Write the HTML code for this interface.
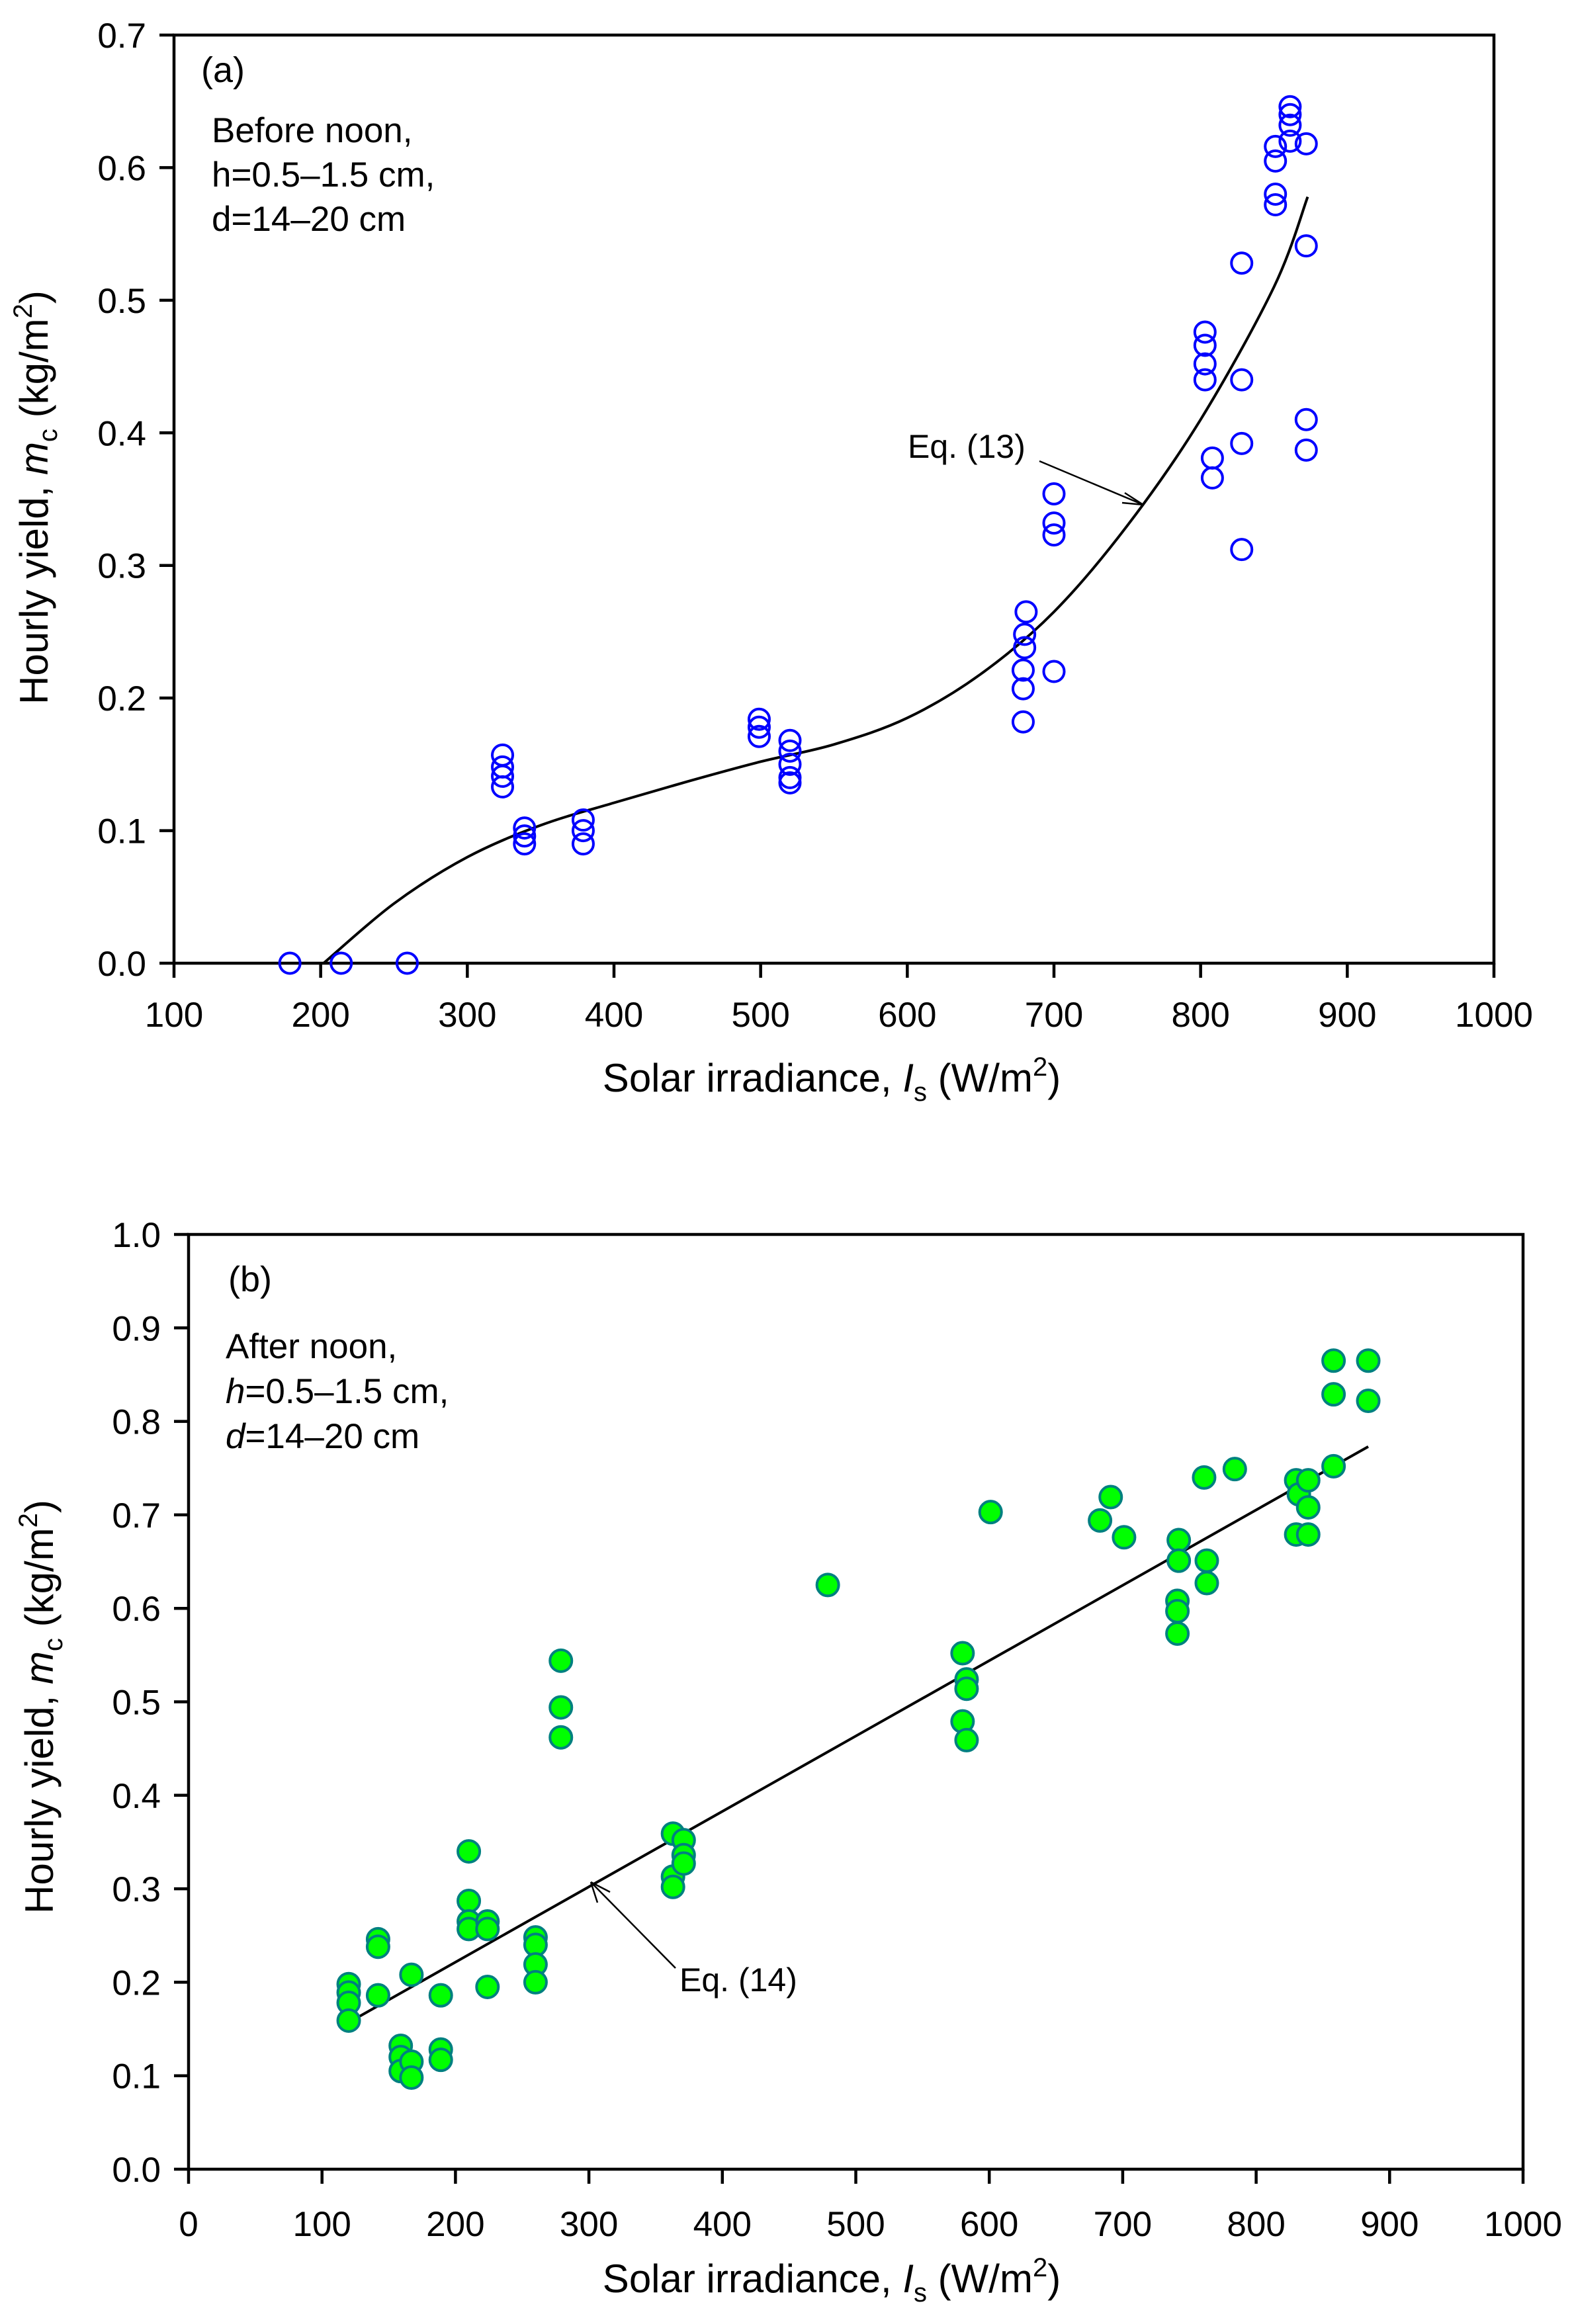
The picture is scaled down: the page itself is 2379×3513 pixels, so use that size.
<!DOCTYPE html>
<html><head><meta charset="utf-8">
<style>
html,body{margin:0;padding:0;background:#fff;}
svg{display:block;font-family:"Liberation Sans",Arial,sans-serif;}
</style></head>
<body>
<svg id="fig" width="2379" height="3513" viewBox="0 0 2379 3513" xmlns="http://www.w3.org/2000/svg">
<rect width="2379" height="3513" fill="#fff"/>
<g id="chartA"></g>
<g id="chartB"></g>
</svg>
<script>
// ---- Chart (a) data ----
const aX = [179,214,259,324,324,324,324,339,339,339,379,379,379,499,499,499,520,520,520,520,520,679,679,679,680,680,681,700,700,700,700,803,803,803,803,808,808,828,828,828,828,851,851,851,851,861,861,861,861,872,872,872,872];
const aY = [0,0,0,0.157,0.148,0.141,0.133,0.102,0.096,0.09,0.108,0.1,0.09,0.184,0.178,0.171,0.168,0.16,0.15,0.14,0.136,0.182,0.207,0.221,0.238,0.248,0.265,0.22,0.323,0.332,0.354,0.44,0.452,0.466,0.476,0.366,0.381,0.312,0.392,0.44,0.528,0.572,0.58,0.605,0.616,0.62,0.632,0.64,0.646,0.618,0.541,0.41,0.387];
const aCurveX = [202,250,300,350,400,450,500,550,600,650,700,750,800,850,873];
const aCurveY = [0,0.045,0.08,0.104,0.121,0.137,0.152,0.165,0.185,0.218,0.265,0.33,0.41,0.51,0.578];
const aXTicks = [100,200,300,400,500,600,700,800,900,1000];
const aYTicks = [0.0,0.1,0.2,0.3,0.4,0.5,0.6,0.7];
// ---- Chart (b) data ----
const bX = [120,120,120,120,142,142,142,159,159,159,167,167,167,189,189,189,210,210,210,210,224,224,224,260,260,260,260,279,279,279,363,363,363,371,371,371,479,580,583,583,580,583,601,683,691,701,742,742,741,741,741,761,763,763,784,830,832,830,839,839,839,858,858,858,884,884];
const bY = [0.198,0.189,0.178,0.159,0.246,0.238,0.186,0.132,0.12,0.105,0.115,0.098,0.208,0.128,0.117,0.186,0.34,0.287,0.265,0.257,0.265,0.257,0.195,0.248,0.24,0.219,0.2,0.544,0.494,0.462,0.359,0.313,0.302,0.352,0.336,0.327,0.625,0.552,0.524,0.514,0.479,0.459,0.703,0.694,0.719,0.676,0.673,0.651,0.608,0.597,0.573,0.74,0.651,0.627,0.749,0.737,0.722,0.679,0.737,0.708,0.679,0.752,0.829,0.865,0.865,0.822];
const bLineX = [120,884];
const bLineY = [0.157,0.773];
const bXTicks = [0,100,200,300,400,500,600,700,800,900,1000];
const bYTicks = [0.0,0.1,0.2,0.3,0.4,0.5,0.6,0.7,0.8,0.9,1.0];

const NS = "http://www.w3.org/2000/svg";
function mk(parent, tag, attrs, text){
  const e = document.createElementNS(NS, tag);
  for (const k in attrs) e.setAttribute(k, attrs[k]);
  if (text !== undefined) e.textContent = text;
  parent.appendChild(e); return e;
}
function smoothPath(pts){
  let d = "M"+pts[0][0]+","+pts[0][1];
  for (let i=0;i<pts.length-1;i++){
    const p0=pts[Math.max(0,i-1)], p1=pts[i], p2=pts[i+1], p3=pts[Math.min(pts.length-1,i+2)];
    const c1=[p1[0]+(p2[0]-p0[0])/6, p1[1]+(p2[1]-p0[1])/6];
    const c2=[p2[0]-(p3[0]-p1[0])/6, p2[1]-(p3[1]-p1[1])/6];
    d += " C"+c1[0]+","+c1[1]+" "+c2[0]+","+c2[1]+" "+p2[0]+","+p2[1];
  }
  return d;
}
function axes(g, L, R, T, B, xTicks, yTicks, xs, ys, yDec, xLabelY){
  const frame = mk(g,"rect",{x:L,y:T,width:R-L,height:B-T,fill:"none",stroke:"#000","stroke-width":4.5});
  
  
  xTicks.forEach(v=>{
    const x = xs(v);
    const t = mk(g,"line",{x1:x,y1:B,x2:x,y2:B+22,stroke:"#000","stroke-width":4.5});
    
    
    const l = mk(g,"text",{x:x,y:xLabelY,"font-size":53,"text-anchor":"middle"},String(v));
    
    
  });
  yTicks.forEach(v=>{
    const y = ys(v);
    const t = mk(g,"line",{x1:L-22,y1:y,x2:L,y2:y,stroke:"#000","stroke-width":4.5});
    
    
    const l = mk(g,"text",{x:L-42,y:y+19,"font-size":53,"text-anchor":"end"},v.toFixed(yDec));
    
    
  });
}
function titles(g, cx, xy, yx, yy){
  const xt = mk(g,"text",{x:cx,y:xy,"font-size":60,"text-anchor":"middle"});
  
  
  xt.innerHTML = 'Solar irradiance, <tspan font-style="italic">I</tspan><tspan font-size="40" dy="14">s</tspan><tspan dy="-14"> (W/m</tspan><tspan font-size="40" dy="-24">2</tspan><tspan dy="24">)</tspan>';
  const yt = mk(g,"text",{x:0,y:0,"font-size":60,"text-anchor":"middle",transform:"translate("+yx+","+yy+") rotate(-90)"});
  
  
  yt.innerHTML = 'Hourly yield, <tspan font-style="italic">m</tspan><tspan font-size="40" dy="14">c</tspan><tspan dy="-14"> (kg/m</tspan><tspan font-size="40" dy="-24">2</tspan><tspan dy="24">)</tspan>';
}

// ===== Chart A =====
(function(){
  const g = document.getElementById("chartA");
  const L=263,R=2258,T=53,B=1456;
  const xs = v => L + (v-100)/900*(R-L);
  const ys = v => B - v/0.7*(B-T);
  axes(g,L,R,T,B,aXTicks,aYTicks,xs,ys,1,1552);
  titles(g,1257,1650,72,752);
  const pts = aCurveX.map((x,i)=>[xs(x),ys(aCurveY[i])]);
  const c = mk(g,"path",{d:smoothPath(pts),fill:"none",stroke:"#000","stroke-width":4});
  
  
  aX.forEach((x,i)=>{
    const m = mk(g,"circle",{cx:xs(x),cy:ys(aY[i]),r:15.5,fill:"none",stroke:"#0000ff","stroke-width":4});
    
    
  });
  const lab = mk(g,"text",{x:337,y:124,"font-size":54,"text-anchor":"middle"},"(a)");
  
  
  ["Before noon,","h=0.5\u20131.5 cm,","d=14\u201320 cm"].forEach((s,i)=>{
    const t = mk(g,"text",{x:320,y:215+i*67,"font-size":53},s);
    
    
  });
  const eq = mk(g,"text",{x:1372,y:692,"font-size":50},"Eq. (13)");
  
  
  const ar = mk(g,"line",{x1:1571,y1:697,x2:1728,y2:763,stroke:"#000","stroke-width":2.5});
  
  
  const ah = mk(g,"path",{d:"M1728,763 L1700,745 M1728,763 L1696,760",stroke:"#000","stroke-width":2.5,fill:"none"});
  
  
})();

// ===== Chart B =====
(function(){
  const g = document.getElementById("chartB");
  const L=285,R=2302,T=1866,B=3279;
  const xs = v => L + v/1000*(R-L);
  const ys = v => B - v/1.0*(B-T);
  axes(g,L,R,T,B,bXTicks,bYTicks,xs,ys,1,3380);
  titles(g,1257,3465,80,2580);
  const ln = mk(g,"line",{x1:xs(bLineX[0]),y1:ys(bLineY[0]),x2:xs(bLineX[1]),y2:ys(bLineY[1]),stroke:"#000","stroke-width":4});
  
  
  bX.forEach((x,i)=>{
    const m = mk(g,"circle",{cx:xs(x),cy:ys(bY[i]),r:16.5,fill:"#00ff00",stroke:"#008080","stroke-width":4});
    
    
  });
  const lab = mk(g,"text",{x:378,y:1952,"font-size":54,"text-anchor":"middle"},"(b)");
  
  
  const n1 = mk(g,"text",{x:341,y:2053,"font-size":53},"After noon,");
  
  
  const n2 = mk(g,"text",{x:341,y:2121,"font-size":53});
  
  
  n2.innerHTML='<tspan font-style="italic">h</tspan>=0.5\u20131.5 cm,';
  const n3 = mk(g,"text",{x:341,y:2189,"font-size":53});
  
  
  n3.innerHTML='<tspan font-style="italic">d</tspan>=14\u201320 cm';
  const eq = mk(g,"text",{x:1027,y:3010,"font-size":50},"Eq. (14)");
  
  
  const ar = mk(g,"line",{x1:1021,y1:2975,x2:893,y2:2845,stroke:"#000","stroke-width":2.5});
  
  
  const ah = mk(g,"path",{d:"M893,2845 L903,2876 M893,2845 L922,2860",stroke:"#000","stroke-width":2.5,fill:"none"});
  
  
})();
</script>
</body></html>
